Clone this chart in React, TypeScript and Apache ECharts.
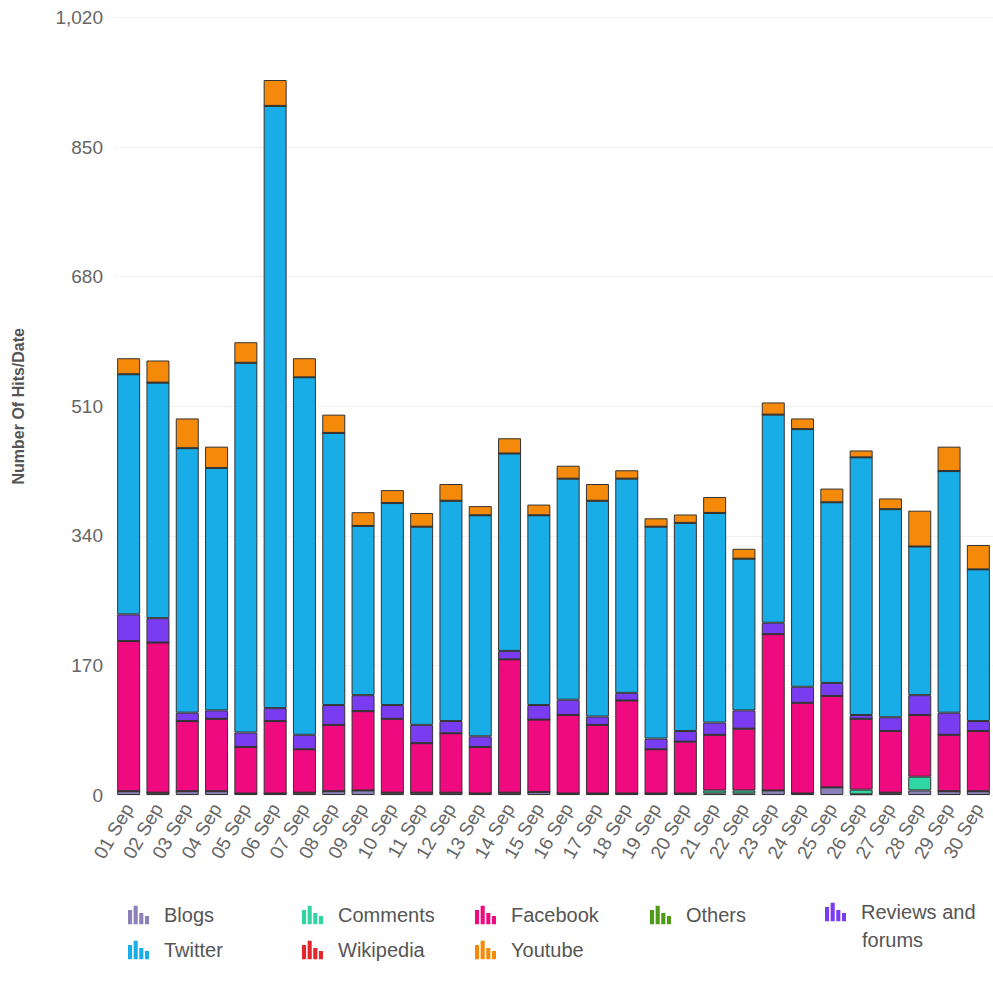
import React, { useEffect, useRef } from "react";
import * as echarts from "echarts";

const dates = [
  "01 Sep", "02 Sep", "03 Sep", "04 Sep", "05 Sep", "06 Sep", "07 Sep", "08 Sep", "09 Sep", "10 Sep",
  "11 Sep", "12 Sep", "13 Sep", "14 Sep", "15 Sep", "16 Sep", "17 Sep", "18 Sep", "19 Sep", "20 Sep",
  "21 Sep", "22 Sep", "23 Sep", "24 Sep", "25 Sep", "26 Sep", "27 Sep", "28 Sep", "29 Sep", "30 Sep",
];
const yTicks = [0, 170, 340, 510, 680, 850, 1020];

const blogs = [5, 3, 5, 5, 2, 2, 3, 5, 6, 3, 3, 3, 2, 3, 4, 2, 2, 2, 2, 2, 2, 2, 6, 2, 10, 1, 3, 6, 5, 5];
const comments = [0, 0, 0, 0, 0, 0, 0, 0, 0, 0, 0, 0, 0, 0, 0, 0, 0, 0, 0, 0, 4, 4, 0, 0, 0, 6, 0, 18, 0, 0];
const facebook = [197, 197, 92, 95, 61, 95, 57, 87, 104, 97, 65, 78, 61, 175, 95, 103, 90, 122, 58, 68, 73, 81, 205, 119, 120, 93, 81, 81, 74, 79];
const others = [0, 0, 0, 0, 0, 0, 0, 0, 0, 0, 0, 0, 0, 0, 0, 0, 0, 0, 0, 0, 0, 0, 0, 0, 0, 0, 0, 0, 0, 0];
const reviews = [35, 32, 11, 11, 19, 17, 19, 26, 21, 18, 24, 16, 14, 11, 19, 20, 11, 10, 14, 14, 16, 24, 15, 21, 17, 5, 18, 26, 29, 13];
const twitter = [315, 309, 347, 318, 485, 790, 469, 357, 222, 265, 260, 289, 290, 259, 249, 290, 283, 281, 278, 273, 275, 199, 273, 338, 237, 338, 273, 195, 317, 199];
const wikipedia = [0, 0, 0, 0, 0, 0, 0, 0, 0, 0, 0, 0, 0, 0, 0, 0, 0, 0, 0, 0, 0, 0, 0, 0, 0, 0, 0, 0, 0, 0];
const youtube = [21, 29, 39, 28, 27, 34, 25, 24, 18, 17, 18, 22, 12, 20, 14, 17, 22, 11, 11, 11, 21, 13, 16, 14, 18, 9, 14, 47, 32, 32];

const seriesNames = ["Blogs", "Comments", "Facebook", "Others", "Reviews and forums", "Twitter", "Wikipedia", "Youtube"];
const seriesData = [blogs, comments, facebook, others, reviews, twitter, wikipedia, youtube];
const seriesColors = ["#8c80b8", "#2fd6a4", "#f00a80", "#4f9a16", "#7a3cf0", "#18ade6", "#e5262d", "#f58a0a"];

const legendLayout: Array<[string, number, number]> = [
  ["Blogs", 128, 905],
  ["Comments", 302, 905],
  ["Facebook", 475, 905],
  ["Others", 650, 905],
  ["Reviews and forums", 825, 902],
  ["Twitter", 128, 940],
  ["Wikipedia", 302, 940],
  ["Youtube", 475, 940],
];

const iconPath = "path://M0,6h4v14h-4z M5.5,2h4v18h-4z M11,9h4v11h-4z M16.5,12h4v8h-4z";

export default function App() {
  const ref = useRef<HTMLDivElement>(null);
  useEffect(() => {
    if (!ref.current) return;
    const chart = echarts.init(ref.current, null, { renderer: "svg" });
    const font = "'Liberation Sans', Arial, sans-serif";
    const option: any = {
      animation: false,
      backgroundColor: "#ffffff",
      grid: { left: 114, right: -8, top: 17.5, bottom: 195, containLabel: false },
      xAxis: {
        type: "category",
        data: dates,
        axisLine: { show: false },
        axisTick: { show: false },
        axisLabel: { interval: 0, rotate: 60, fontSize: 19, color: "#666", fontFamily: font, margin: 10 },
      },
      yAxis: {
        type: "value",
        min: yTicks[0],
        max: yTicks[yTicks.length - 1],
        interval: 170,
        name: "Number Of Hits/Date",
        nameLocation: "middle",
        nameGap: 88,
        nameTextStyle: { fontSize: 16, fontWeight: "bold", color: "#555", fontFamily: font },
        axisLine: { show: false },
        axisTick: { show: false },
        splitLine: { lineStyle: { color: "#f1f1f1", width: 1 } },
        axisLabel: {
          fontSize: 19,
          color: "#666",
          fontFamily: font,
          margin: 11,
          formatter: (v: number) => v.toLocaleString("en-US"),
        },
      },
      legend: legendLayout.map(([name, x, y]) => ({
        data: [name],
        left: x,
        top: y,
        padding: 0,
        itemWidth: 21,
        itemHeight: 20,
        icon: iconPath,
        itemStyle: { borderWidth: 0 },
        formatter: (n: string) => (n === "Reviews and forums" ? "Reviews and" : n),
        textStyle: { fontSize: 20, color: "#555", fontFamily: font, padding: [0, 0, 0, 10] },
      })),
      graphic: [
        {
          type: "text",
          left: 862,
          top: 930,
          style: { text: "forums", fontSize: 20, fill: "#555", fontFamily: font },
        },
      ],
      series: seriesNames.map((name, i) => ({
        name,
        type: "bar",
        stack: "total",
        barWidth: 23,
        data: seriesData[i],
        itemStyle: { color: seriesColors[i], borderColor: "#333", borderWidth: 1 },
        emphasis: { disabled: true },
      })),
    };
    chart.setOption(option);
    return () => chart.dispose();
  }, []);
  return (
    <div
      ref={ref}
      style={{ position: "absolute", left: 0, top: 0, width: 993, height: 990, background: "#fff" }}
    />
  );
}
